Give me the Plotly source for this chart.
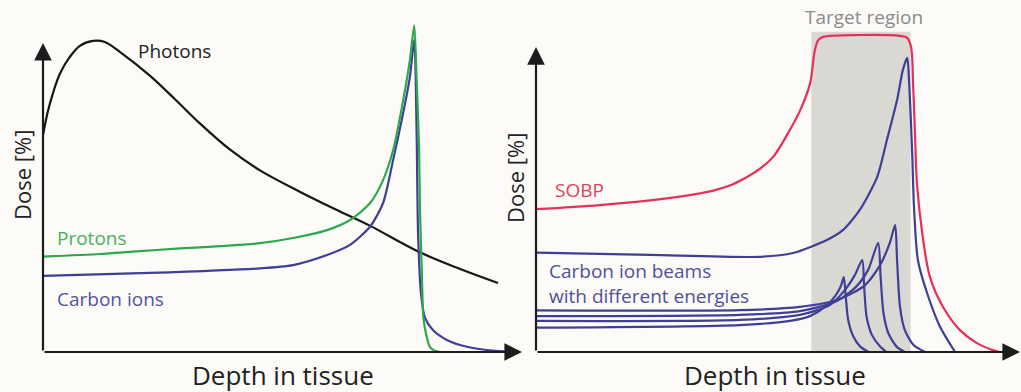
import plotly.graph_objects as go

# ---------------- Left panel: depth-dose curves (depth 0-100, dose in %) ----------------
photon_depth = [0, 1.0, 2.1, 3.5, 5.6, 7.7, 10.4, 12.9, 16.1, 22.3, 27.6, 32.8, 39.0, 45.3,
                53.7, 62.0, 68.3, 78.7, 87.1, 95.0]
photon_dose = [66.4, 73.5, 79.3, 85.1, 90.3, 93.7, 95.2, 94.9, 91.8, 84.6, 77.3, 69.9, 62.0, 55.6,
               49.0, 43.0, 38.6, 30.5, 25.4, 21.1]

proton_depth = [0, 11.9, 18.8, 28.6, 37.0, 45.3, 52.2, 59.3, 64.1, 68.3, 71.0, 73.1, 75.2, 76.6, 77.5,
                78.0, 78.5, 78.7, 79.1, 79.4, 80.1, 80.8, 81.8, 82.9]
proton_dose = [29.2, 30.0, 30.7, 31.7, 32.4, 33.3, 34.9, 37.3, 40.4, 45.6, 52.6, 61.8, 77.1, 89.4, 100.0,
               83.3, 63.4, 43.5, 23.6, 10.7, 4.7, 1.5, 0.4, 0.0]

carbon_depth = [0, 22.3, 45.3, 52.2, 59.3, 64.1, 68.3, 71.0, 73.1, 75.2, 76.6, 77.5,
                78.0, 78.3, 78.9, 79.7, 81.4, 84.3, 88.5, 93.9, 98.1]
carbon_dose = [23.3, 24.2, 25.6, 26.6, 29.7, 32.8, 38.4, 45.6, 58.8, 73.2, 84.2, 95.5,
               67.0, 36.4, 18.1, 10.7, 6.7, 3.7, 1.6, 0.4, 0.0]

# ---------------- Right panel: spread-out Bragg peak ----------------
sobp_depth = [0, 13.2, 27.0, 33.9, 37.0, 40.7, 43.4, 46.3, 49.0, 51.9, 54.5, 56.6, 57.6, 58.3, 59.3,
              66.9, 75.2, 76.7, 77.5, 77.9, 78.3, 78.7, 79.8, 81.4, 84.1, 87.6, 91.1, 94.4, 95.9]
sobp_dose = [45.0, 46.3, 48.4, 50.0, 51.0, 52.9, 55.0, 57.8, 61.5, 68.5, 75.9, 84.5, 95.0, 98.3, 99.3,
             99.9, 99.6, 99.0, 96.1, 84.8, 69.0, 53.3, 37.5, 23.6, 14.2, 6.9, 2.8, 0.6, 0.0]

# carbon ion beams of different energies (deepest beam first)
beam_depths = [
    [0, 23.6, 46.3, 53.1, 60.1, 63.4, 66.9, 70.5, 72.5, 74.6, 75.8, 76.7,
     77.1, 77.7, 78.1, 78.9, 80.8, 83.5, 86.6],
    [0, 42.1, 54.5, 62.8, 68.0, 71.1, 73.1, 74.2, 74.6, 75.2, 76.2, 78.0, 80.4],
    [0, 42.1, 54.5, 61.8, 65.9, 68.6, 70.7, 71.2, 71.8, 72.8, 74.5, 76.2],
    [0, 42.1, 54.5, 60.7, 63.8, 65.9, 67.4, 67.8, 68.3, 69.4, 71.1, 72.4],
    [0, 42.1, 52.5, 56.6, 59.7, 61.8, 63.0, 63.6, 64.0, 64.5, 65.6, 67.0, 68.7],
]
beam_doses = [
    [31.3, 30.6, 30.0, 31.2, 35.3, 38.4, 44.8, 55.2, 66.8, 79.4, 88.9, 92.7,
     84.8, 63.7, 45.7, 29.0, 18.6, 7.9, 0.0],
    [13.1, 13.2, 14.2, 16.7, 21.1, 27.4, 34.4, 40.0, 29.0, 14.3, 6.9, 2.2, 0.0],
    [11.3, 11.7, 12.9, 15.8, 20.2, 25.8, 34.4, 23.7, 12.2, 5.9, 1.7, 0.0],
    [9.8, 10.1, 11.7, 14.8, 19.5, 24.3, 29.0, 20.6, 11.1, 5.4, 1.7, 0.0],
    [7.7, 8.5, 9.8, 11.3, 14.2, 17.6, 20.8, 23.6, 17.4, 10.1, 4.8, 1.7, 0.0],
]

target_region = [56.9, 77.4]   # depth range of the target volume

BG = "#fcfbf8"
AXIS = "#1c1c1c"
GREEN = "#2ea84c"
INDIGO = "#3f3f96"
RED = "#e6305a"
FONT = "Open Sans"

fig = go.Figure()


def curve(x, y, color, xa, ya, smooth=0.7):
    fig.add_trace(go.Scatter(
        x=x, y=y, mode="lines", xaxis=xa, yaxis=ya, showlegend=False,
        hoverinfo="skip",
        line=dict(color=color, width=2.2, shape="spline", smoothing=smooth),
    ))


curve(photon_depth, photon_dose, "#161616", "x", "y", smooth=1.0)
curve(carbon_depth, carbon_dose, INDIGO, "x", "y")
curve(proton_depth, proton_dose, GREEN, "x", "y")

for bx, by in zip(beam_depths, beam_doses):
    curve(bx, by, INDIGO, "x2", "y2")
curve(sobp_depth, sobp_dose, RED, "x2", "y2", smooth=0.9)

# shaded target volume
fig.add_shape(type="rect", xref="x2", yref="y2",
              x0=target_region[0], x1=target_region[1], y0=0, y1=100.9,
              fillcolor="#d9d8d3", line_width=0, layer="below")

annotations = []


def axis_arrow(xref, yref, x, y):
    annotations.append(dict(
        xref=xref, yref=yref, axref=xref, ayref=yref,
        x=x, y=y, ax=0, ay=0, text="", showarrow=True,
        arrowhead=2, arrowsize=1.6, arrowwidth=2.2, arrowcolor=AXIS,
    ))


axis_arrow("x", "y", 0, 94.6)
axis_arrow("x", "y", 100, 0)
axis_arrow("x2", "y2", 0, 96.1)
axis_arrow("x2", "y2", 100, 0)


def label(text, xref, yref, x, y, color, size=19, xanchor="left", angle=0):
    annotations.append(dict(
        text=text, xref=xref, yref=yref, x=x, y=y, showarrow=False,
        xanchor=xanchor, yanchor="middle", textangle=angle,
        font=dict(family=FONT, size=size, color=color),
    ))


label("Photons", "x", "y", 27.5, 92.0, "#222222", xanchor="center")
label("Protons", "x", "y", 2.5, 34.8, "#4bb05a")
label("Carbon ions", "x", "y", 2.5, 16.3, "#54549a")
label("SOBP", "x2", "y2", 3.5, 51.0, "#e2405f")
label("Carbon ion beams", "x2", "y2", 2.3, 25.6, "#50509a")
label("with different energies", "x2", "y2", 2.3, 17.6, "#50509a")
label("Target region", "paper", "paper", 864 / 1021, 1 - 17.4 / 392, "#8a8a8a", xanchor="center")

label("Dose [%]", "paper", "paper", 22 / 1021, 1 - 175 / 392, "#222222", size=22,
      xanchor="center", angle=-90)
label("Dose [%]", "paper", "paper", 515 / 1021, 1 - 178 / 392, "#222222", size=22,
      xanchor="center", angle=-90)
label("Depth in tissue", "paper", "paper", 282.5 / 1021, 1 - 374.5 / 392, "#222222", size=26,
      xanchor="center")
label("Depth in tissue", "paper", "paper", 775 / 1021, 1 - 374.5 / 392, "#222222", size=26,
      xanchor="center")

hidden = dict(visible=False, showgrid=False, zeroline=False, fixedrange=True)
fig.update_layout(
    width=1021, height=392,
    margin=dict(l=0, r=0, t=0, b=0),
    paper_bgcolor=BG, plot_bgcolor=BG,
    xaxis=dict(domain=[43 / 1021, 522 / 1021], range=[0, 100], anchor="y", **hidden),
    yaxis=dict(domain=[40 / 392, 370 / 392], range=[0, 101], anchor="x", **hidden),
    xaxis2=dict(domain=[536 / 1021, 1020 / 1021], range=[0, 100], anchor="y2", **hidden),
    yaxis2=dict(domain=[40 / 392, 370 / 392], range=[0, 104], anchor="x2", **hidden),
    annotations=annotations,
    showlegend=False,
)

fig.write_html("out.html")
